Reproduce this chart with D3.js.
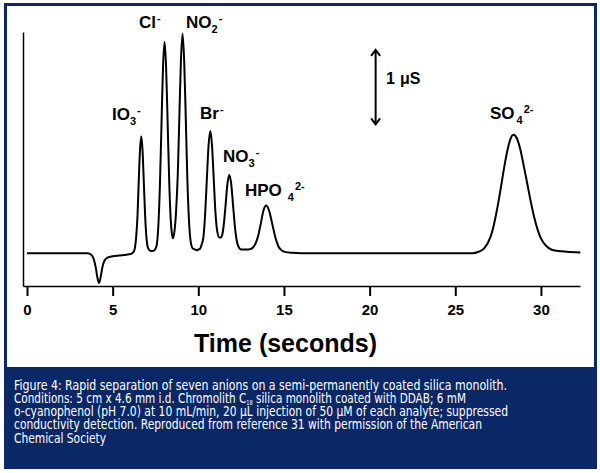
<!DOCTYPE html>
<html><head><meta charset="utf-8">
<script src="https://cdn.jsdelivr.net/npm/d3@7"></script>
<style>body{margin:0;background:#fff}svg{display:block}</style>
</head><body><svg id="c" width="600" height="473"></svg>
<script>
// ---------- DATA ----------
const times = [0,1,2,3,3.55,3.75,3.9,4.02,4.12,4.21,4.3,4.4,4.52,4.7,5,5.4,5.8,6.05,6.14,
 6.25,6.37,6.45,6.52,6.595,6.67,6.745,6.82,6.895,6.97,7.05,7.15,7.25,7.37,
 7.5,7.58,7.67,7.76,7.85,7.94,8.03,8.12,8.21,8.3,8.39,8.46,8.52,
 8.6,8.7,8.8,8.89,8.98,9.08,9.18,9.27,9.36,9.46,9.56,9.66,9.8,9.92,
 10,10.1,10.2,10.3,10.4,10.5,10.6,10.7,10.8,10.9,11,11.1,11.23,
 11.3,11.4,11.48,11.59,11.7,11.81,11.92,12.03,12.14,12.25,12.36,12.5,12.69,
 12.9,13.1,13.2,13.32,13.48,13.64,13.8,13.96,14.14,14.32,14.5,14.68,14.86,15.1,15.5,
 16,18,20,22,24,26,26.36,26.7,27.04,27.21,27.38,27.55,27.72,27.89,28.06,28.23,28.4,
 28.6,28.8,29,29.18,29.4,29.6,29.8,30,30.3,30.6,31,31.5,32.3];
const signal = [0,0,0,0,0,-0.02,-0.08,-0.2,-0.34,-0.4,-0.32,-0.19,-0.1,-0.06,-0.04,-0.03,-0.02,-0.01,0,
 0.03,0.21,0.5,0.95,1.38,1.57,1.38,0.95,0.51,0.22,0.08,0.04,0.03,0.03,
 0.06,0.12,0.38,0.92,1.72,2.5,2.84,2.5,1.75,0.98,0.45,0.26,0.2,
 0.28,0.55,1.05,1.8,2.55,2.95,2.55,1.8,1.0,0.42,0.15,0.07,0.05,0.04,
 0.05,0.06,0.12,0.22,0.53,1.0,1.45,1.64,1.45,1.0,0.55,0.3,0.21,
 0.21,0.25,0.37,0.64,0.93,1.05,0.93,0.64,0.35,0.16,0.08,0.05,0.05,
 0.05,0.06,0.08,0.12,0.22,0.39,0.57,0.64,0.565,0.39,0.21,0.09,0.04,0.015,0.005,
 0,0,0,0,0,0,0.02,0.07,0.21,0.34,0.52,0.73,0.965,1.2,1.4,1.54,1.59,
 1.54,1.39,1.17,0.96,0.7,0.49,0.32,0.2,0.1,0.05,0.03,0.02,0.01];
const tickValues = [0,5,10,15,20,25,30];
const ionMain = ["IO","Cl","NO","Br","NO","HPO","SO"];
const ionSub  = ["3","","2","","3","4","4"];
const ionSup  = ["-","-","-","-","-","2-","2-"];
const scaleBarValue = 1; // µS
const axisTitle = "Time (seconds)";
const captionLines = [
 [["Figure 4: Rapid separation of seven anions on a semi-permanently coated silica monolith.",0]],
 [["Conditions: 5 cm x 4.6 mm i.d. Chromolith C",0],["18",1],[" silica monolith coated with DDAB; 6 mM",0]],
 [["o-cyanophenol (pH 7.0) at 10 mL/min, 20 \u03bcL injection of 50 \u03bcM of each analyte; suppressed",0]],
 [["conductivity detection. Reproduced from reference 31 with permission of the American",0]],
 [["Chemical Society",0]]
];

// ---------- DRAW ----------
const svg = d3.select("#c");
const navy = "#0b2866";
const bold = "'Liberation Sans', Arial, sans-serif";
svg.append("rect").attr("x",4).attr("y",3).attr("width",593).attr("height",466).attr("fill",navy);
svg.append("rect").attr("x",7).attr("y",6).attr("width",587).attr("height",361).attr("fill","#fff");

const x = d3.scaleLinear().domain([-0.233, 32.28]).range([23, 580]);
const y = d3.scaleLinear().domain([-0.44, 2.97]).range([286, 32]);

const gx = svg.append("g").attr("transform","translate(0,286)")
  .call(d3.axisBottom(x).tickValues(tickValues).tickSize(10).tickSizeOuter(0).tickPadding(8).tickFormat(d3.format("d")));
gx.attr("font-family", bold).attr("font-size", 15).attr("font-weight","bold");
gx.select(".domain").attr("stroke","#000").attr("stroke-width",1.5);
gx.selectAll(".tick line").attr("stroke","#000").attr("stroke-width",2);
gx.selectAll(".tick text").attr("fill","#000");

const gy = svg.append("g").attr("transform","translate(23,0)")
  .call(d3.axisLeft(y).tickValues([]).tickSizeOuter(0));
gy.select(".domain").attr("stroke","#000").attr("stroke-width",1.5);

const pts = times.map((t,i)=>[t, signal[i]]);
svg.append("path").datum(pts)
  .attr("fill","none").attr("stroke","#000").attr("stroke-width",2).attr("stroke-linejoin","round")
  .attr("d", d3.line().x(d=>x(d[0])).y(d=>y(d[1])).curve(d3.curveMonotoneX));

// axis title
svg.append("text").attr("x",285.5).attr("y",352).attr("text-anchor","middle")
  .attr("font-family",bold).attr("font-weight","bold").attr("font-size",25).attr("fill","#000").text(axisTitle);

// scale bar
const sbX = x(20.35), sbTop = y(2.73), sbBot = y(2.73 - scaleBarValue);
const sb = svg.append("g").attr("stroke","#000").attr("stroke-width",2).attr("fill","none");
sb.append("line").attr("x1",sbX).attr("x2",sbX).attr("y1",sbTop).attr("y2",sbBot);
sb.append("path").attr("d",`M${sbX-4.5},${sbTop+6}L${sbX},${sbTop}L${sbX+4.5},${sbTop+6}`);
sb.append("path").attr("d",`M${sbX-4.5},${sbBot-6}L${sbX},${sbBot}L${sbX+4.5},${sbBot-6}`);
const sbt = svg.append("text").attr("y",84).attr("font-family",bold).attr("font-weight","bold").attr("font-size",16).attr("fill","#000");
sbt.append("tspan").attr("x",386).text(String(scaleBarValue));
sbt.append("tspan").attr("x",400).text("\u03bcS");

// peak labels
const labelPos = [[112,120,0],[139,28,0],[186,28,0],[200,119,0],[223,162,0],[245,196,6],[490,119,2]];
ionMain.forEach((m,i)=>{
  const [lx,ly,gap] = labelPos[i];
  const t = svg.append("text").attr("x",lx).attr("y",ly)
    .attr("font-family",bold).attr("font-weight","bold").attr("font-size",17).attr("fill","#000");
  t.append("tspan").text(m);
  let cur = 0;
  if (ionSub[i]) { t.append("tspan").attr("dx",gap).attr("dy",5).attr("font-size",11).text(ionSub[i]); cur = 5; }
  t.append("tspan").attr("dx",1).attr("dy",-6-cur).attr("font-size",11).text(ionSup[i]);
});

// caption
const capEnds = [507,466,508,482,106];
captionLines.forEach((segs,i)=>{
  const t = svg.append("text").attr("x",14).attr("y",389.5 + i*13.3)
    .attr("font-family","'DejaVu Sans Condensed', 'DejaVu Sans', sans-serif").attr("font-stretch","condensed")
    .attr("font-size",14.5).attr("fill","#fff");
  segs.forEach(([s,sub])=>{
    const ts = t.append("tspan").text(s);
    if (sub) ts.attr("font-size",7).attr("dy",2);
    else if (t.selectAll("tspan").size()>1) ts.attr("dy",-2);
  });
  t.attr("textLength", capEnds[i]-14).attr("lengthAdjust","spacingAndGlyphs");
});
</script></body></html>
